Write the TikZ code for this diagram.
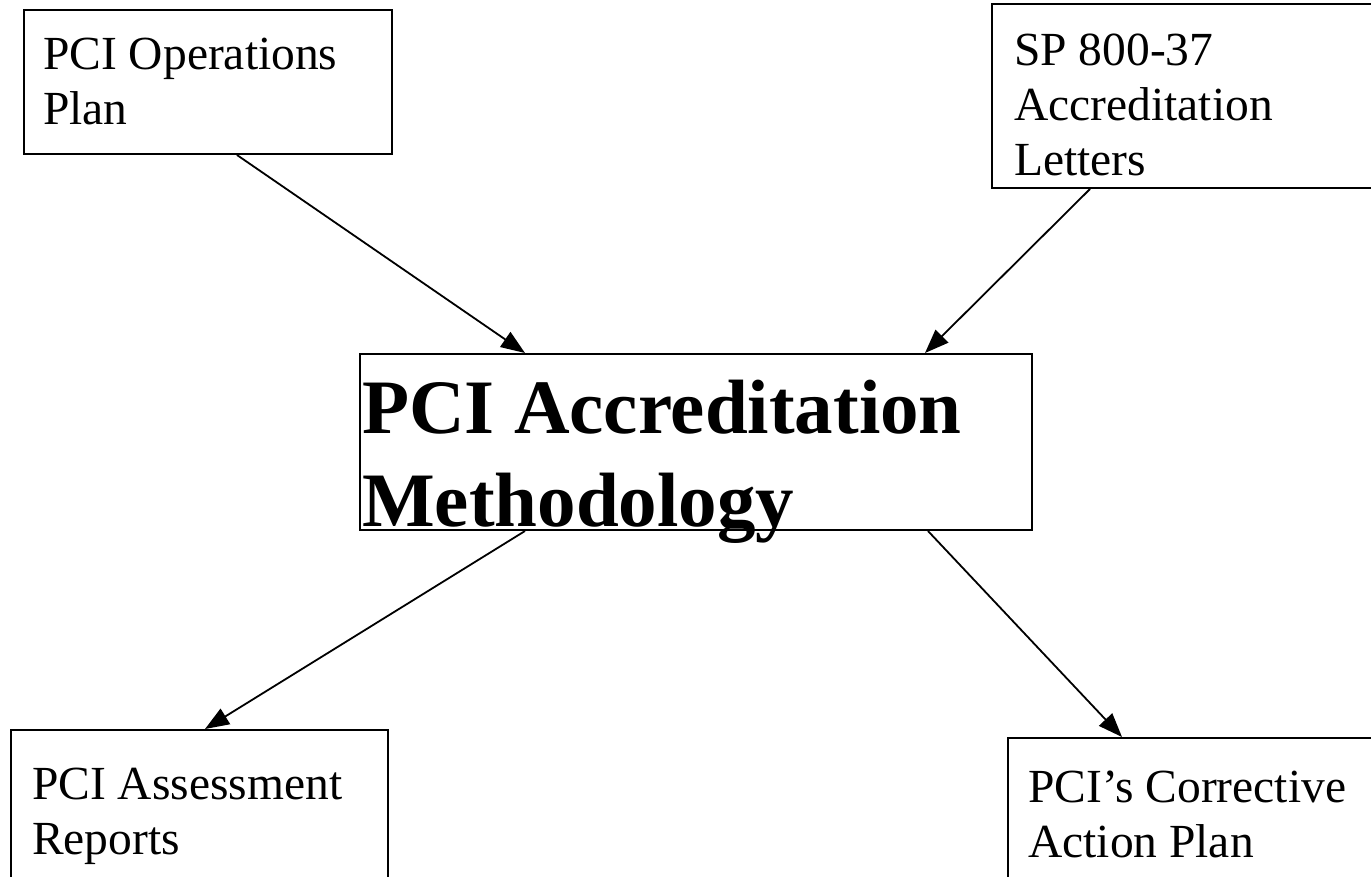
\documentclass[tikz,border=0pt]{standalone}
\usepackage{fontspec}
\setmainfont{Liberation Serif}
\usetikzlibrary{arrows.meta,calc}
\tikzset{
  box/.style={draw=black, line width=2pt, rectangle, inner sep=0pt, fill=none},
  lbl/.style={anchor=base west, inner sep=0pt, align=left, font=\fontsize{47.5pt}{55pt}\selectfont},
  bigl/.style={anchor=base west, inner sep=0pt, align=left, font=\fontsize{77pt}{93pt}\selectfont\bfseries},
  conn/.style={line width=1.8pt, -{Triangle[length=24pt,width=18pt]}}
}
\begin{document}
\begin{tikzpicture}[x=1pt,y=-1pt]
\useasboundingbox[fill=white] (0,0) rectangle (1371,876);
% boxes
\node[box, minimum width=368pt, minimum height=144pt, anchor=north west] (b1) at (23,9) {};
\node[box, minimum width=400pt, minimum height=184pt, anchor=north west] (b2) at (991,3) {};
\node[box, minimum width=672pt, minimum height=176pt, anchor=north west] (c) at (359,353) {};
\node[box, minimum width=377pt, minimum height=160pt, anchor=north west] (b3) at (10,729) {};
\node[box, minimum width=380pt, minimum height=160pt, anchor=north west] (b4) at (1007,737) {};
% texts (anchor is the baseline of the last line)
\node[lbl] (t1) at (43,124) {PCI Operations\\Plan};
\node[lbl] (t2) at (1014,175) {SP 800-37\\Accreditation\\Letters};
\node[lbl] (t3) at (32,854) {PCI Assessment\\Reports};
\node[lbl] (t4) at (1028,857) {PCI’s Corrective\\Action Plan};
\node[bigl] (tc) at (362,526) {PCI Accreditation\\Methodology};
% connectors
\draw[conn] ([xshift=214pt]b1.south west) -- ([xshift=166pt]c.north west);
\draw[conn] ([xshift=99pt]b2.south west) -- ([xshift=566pt]c.north west);
\draw[conn] ([xshift=166pt]c.south west) -- ([xshift=195pt]b3.north west);
\draw[conn] ([xshift=569pt]c.south west) -- ([xshift=115pt]b4.north west);
\end{tikzpicture}
\end{document}
